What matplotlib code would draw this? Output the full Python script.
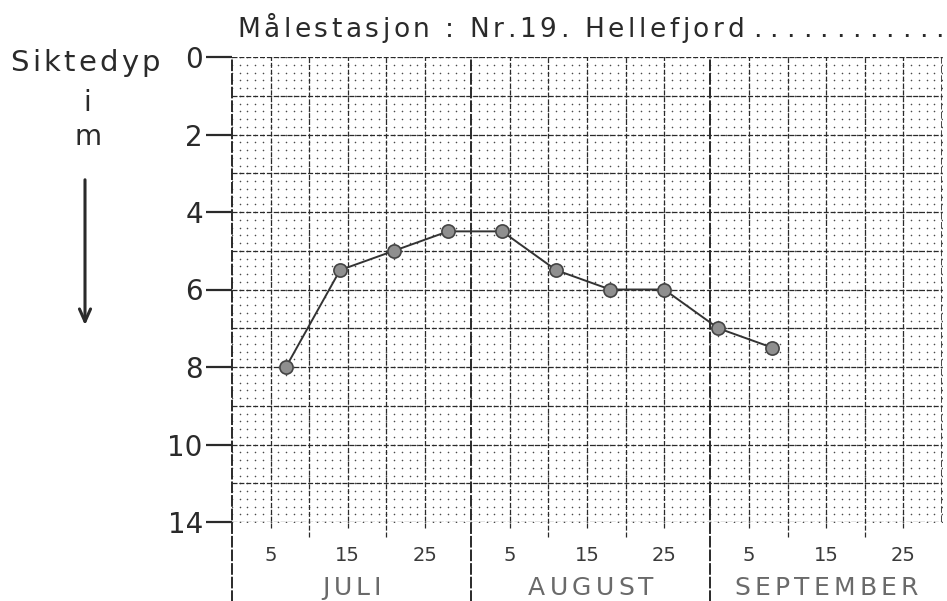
import numpy as np
import matplotlib
matplotlib.use("Agg")
import matplotlib.pyplot as plt
from matplotlib.font_manager import FontProperties, findfont, get_font

# Siktedyp (Secchi depth) at Nr. 19 Hellefjord, weekly readings
months = ["JULI", "AUGUST", "SEPTEMBER"]
month_len = [31, 31, 30]
obs_month = [0, 0, 0, 0, 1, 1, 1, 1, 2, 2]
obs_day = [7, 14, 21, 28, 4, 11, 18, 25, 1, 8]
depth = [8, 5.5, 5, 4.5, 4.5, 5.5, 6, 6, 7, 7.5]

depth_ticks = [0, 2, 4, 6, 8, 10, 12]
depth_labels = ["0", "2", "4", "6", "8", "10", "14"]
day_labels = [5, 15, 25]

W, H = 947, 601
FONT = ["DejaVu Sans"]
INK = "#2a2a2a"


def tracked_text(x, y, s, size, track, ha="left", **kw):
    """Write s letter by letter with extra spacing (pixels, from top-left)."""
    prop = FontProperties(family=FONT, size=size, weight=kw.get("fontweight", "normal"))
    font = get_font(findfont(prop))
    font.set_size(size, 100)
    adv = [font.load_char(ord(c)).linearHoriAdvance / 65536 for c in s]
    total = sum(adv) + track * (len(s) - 1)
    x0 = x - total / 2 if ha == "center" else x
    for c, a in zip(s, adv):
        if c != " ":
            fig.text((x0 + a / 2) / W, 1 - y / H, c, fontsize=size, family=FONT,
                     ha="center", va="baseline", **kw)
        x0 += a + track


month_start = np.concatenate([[0], np.cumsum(month_len)[:-1]])
x_obs = [month_start[m] + d for m, d in zip(obs_month, obs_day)]
x_end = sum(month_len)

fig = plt.figure(figsize=(W / 100, H / 100), dpi=100)
ax = fig.add_axes([232 / W, (H - 522) / H, (942 - 232) / W, (522 - 57) / H])
ax.set_xlim(0, x_end)
ax.set_ylim(12, 0)
for s in ax.spines.values():
    s.set_visible(False)

# graph paper: dots every day / 0.2 m, dashed lines every 5 days / 1 m
gx, gy = np.meshgrid(np.arange(0, x_end + 1), np.arange(0, 12.01, 0.2))
ax.scatter(gx.ravel(), gy.ravel(), s=1.3, color="#4a4a4a", lw=0, zorder=1)
dash = (0, (4, 1.5))
for y in range(0, 13):
    ax.axhline(y, color=INK, lw=0.9, ls=dash, zorder=2)
xt = ax.get_xaxis_transform()
for m, start in enumerate(month_start):
    for d in (5, 10, 15, 20, 25):
        low = -0.032 if d in (10, 20) else -0.012
        ax.vlines(start + d, low, 1, transform=xt, color=INK, lw=0.9,
                  ls=dash, clip_on=False, zorder=2)
    ax.vlines(start, -0.175, 1, transform=xt, color=INK, lw=1.4,
              ls=(0, (6, 1)), clip_on=False, zorder=2)
ax.vlines(x_end, 0, 1, transform=xt, color=INK, lw=1.2, ls=dash, zorder=2)

# month names under the day numbers
for m, start in enumerate(month_start):
    cx = 232 + (start + month_len[m] / 2) * (942 - 232) / x_end
    tracked_text(cx, 595, months[m], 18, 4.2, ha="center", color="#6a6a6a")

# axes ticks
ax.set_yticks(depth_ticks, depth_labels)
ax.tick_params(axis="y", length=19, width=1.6, pad=2, labelsize=20,
               color=INK, labelcolor=INK)
xpos = [start + d for start in month_start for d in day_labels]
ax.set_xticks(xpos, [str(d) for d in day_labels] * len(months))
ax.tick_params(axis="x", length=0, pad=17, labelsize=14, labelcolor="#3a3a3a")
for lab in ax.get_xticklabels() + ax.get_yticklabels():
    lab.set_family(FONT)

ax.plot(x_obs, depth, color="#333333", lw=1.4, marker="o", ms=9.5,
        mfc="#8f8f8f", mec="#444444", mew=1.2, zorder=4)

# headings
tracked_text(237, 37, "Målestasjon : Nr.19. Hellefjord", 19, 3.6, color=INK)
tracked_text(753, 37, "." * 12, 19, 8.2, color=INK)
tracked_text(10, 71, "Siktedyp", 21, 3.3, color=INK)
fig.text(87 / W, 1 - 103 / H, "i", fontsize=20, family=FONT, color=INK,
         ha="center", va="center")
fig.text(88 / W, 1 - 137 / H, "m", fontsize=20, family=FONT, color=INK,
         ha="center", va="center")
ax.annotate("", xy=(85, H - 328), xytext=(85, H - 177),
            xycoords="figure pixels", textcoords="figure pixels",
            arrowprops=dict(arrowstyle="->,head_length=0.9,head_width=0.4",
                            color=INK, lw=2.2))

fig.savefig("out.png", dpi=100, facecolor="white")
